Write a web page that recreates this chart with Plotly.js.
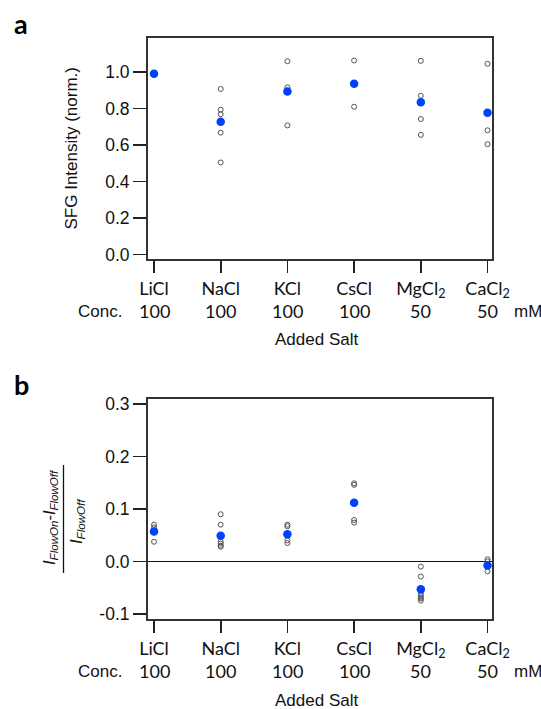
<!DOCTYPE html>
<html>
<head>
<meta charset="utf-8">
<script src="https://cdn.plot.ly/plotly-3.0.1.min.js"></script>
<style>html,body{margin:0;padding:0;background:#fff;}#chart{width:541px;height:709px;}</style>
</head>
<body>
<div id="chart"></div>
<script>
// ---- data ----
const salts = ['LiCl', 'NaCl', 'KCl', 'CsCl', 'MgCl2', 'CaCl2'];
const saltLabels = ['LiCl', 'NaCl', 'KCl', 'CsCl', 'MgCl<sub>2</sub>', 'CaCl<sub>2</sub>'];
const concentrations = ['100', '100', '100', '100', '50', '50'];

// panel a: normalized SFG intensity
const meanSFG = [0.99, 0.727, 0.893, 0.935, 0.833, 0.776];
const replicatesSFG = [
  [0.99],
  [0.906, 0.793, 0.768, 0.667, 0.504],
  [1.058, 0.915, 0.707],
  [1.062, 0.809],
  [1.06, 0.869, 0.742, 0.655],
  [1.044, 0.680, 0.604]
];
const ticksA = [0, 0.2, 0.4, 0.6, 0.8, 1.0];
const tickTextA = ['0.0', '0.2', '0.4', '0.6', '0.8', '1.0'];

// panel b: (I_FlowOn - I_FlowOff) / I_FlowOff
const meanFlow = [0.057, 0.049, 0.052, 0.112, -0.053, -0.008];
const replicatesFlow = [
  [0.070, 0.065, 0.0375],
  [0.090, 0.070, 0.038, 0.034, 0.030, 0.028],
  [0.070, 0.067, 0.040, 0.035],
  [0.149, 0.146, 0.079, 0.074],
  [-0.010, -0.029, -0.061, -0.065, -0.069, -0.071, -0.075],
  [0.004, 0.0, -0.019]
];
const ticksB = [-0.1, 0, 0.1, 0.2, 0.3];
const tickTextB = ['-0.1', '0.0', '0.1', '0.2', '0.3'];

// ---- helpers ----
const W = 541, H = 709;
const px = x => x / W;
const py = y => 1 - y / H;
const ARIAL = 'Liberation Sans, Arial, sans-serif';
const CAL = 'Lato, Open Sans, sans-serif';
const BLUE = '#0040ff';

function hollow(reps, xa, ya) {
  return {
    type: 'scatter', mode: 'markers', xaxis: xa, yaxis: ya,
    x: reps.flatMap((r, i) => r.map(() => salts[i])),
    y: reps.flat(),
    marker: {symbol: 'circle-open', size: 5, color: '#555', line: {width: 1, color: '#555'}},
    hoverinfo: 'x+y'
  };
}
function means(vals, xa, ya) {
  return {
    type: 'scatter', mode: 'markers', xaxis: xa, yaxis: ya,
    x: salts, y: vals,
    marker: {symbol: 'circle', size: 8.5, color: BLUE},
    hoverinfo: 'x+y'
  };
}

const traces = [
  hollow(replicatesSFG, 'x', 'y'),
  means(meanSFG, 'x', 'y'),
  hollow(replicatesFlow, 'x2', 'y2'),
  means(meanFlow, 'x2', 'y2')
];

const frameL = 148, frameR = 492;
const aTop = 38, aBot = 259, bTop = 399, bBot = 619;

const xBase = {
  type: 'category', domain: [px(frameL), px(frameR)], range: [-0.09, 5.067],
  tickvals: salts, ticktext: saltLabels,
  ticks: 'outside', ticklen: 12, tickwidth: 1.6, tickcolor: '#222',
  showline: true, mirror: true, linewidth: 2, linecolor: '#333',
  showgrid: false, zeroline: false, fixedrange: true,
  tickfont: {family: CAL, size: 18, color: '#111'}
};
const yBase = {
  ticks: 'outside', ticklen: 13, tickwidth: 1.6, tickcolor: '#222',
  showline: true, mirror: true, linewidth: 2, linecolor: '#333',
  showgrid: false, fixedrange: true,
  tickfont: {family: ARIAL, size: 17.5, color: '#111'}
};

const annotations = [];
function addText(text, x, y, opts) {
  annotations.push(Object.assign({
    text: text, x: x, y: y, xref: 'paper', yref: 'paper',
    xanchor: 'center', yanchor: 'middle', showarrow: false,
    font: {family: ARIAL, size: 17, color: '#111'}
  }, opts || {}));
}

// panel letters
addText('<b>a</b>', px(21), py(24), {font: {family: CAL, size: 27, color: '#000'}});
addText('<b>b</b>', px(21), py(384), {font: {family: CAL, size: 27, color: '#000'}});

// concentration rows + axis titles for both panels
[[aBot, 'x'], [bBot, 'x2']].forEach(([bot, xr]) => {
  concentrations.forEach((c, i) => {
    annotations.push({
      text: c, x: salts[i], xref: xr, y: py(bot + 52), yref: 'paper',
      xanchor: 'center', yanchor: 'middle', showarrow: false,
      font: {family: CAL, size: 18, color: '#111'}
    });
  });
  addText('Conc.', px(99.5), py(bot + 52));
  addText('mM', px(528), py(bot + 52));
  addText('Added Salt', px(316), py(bot + 81));
});

// y titles
addText('SFG Intensity (norm.)', px(71), py((aTop + aBot) / 2), {textangle: -90});
addText('<i>I</i><sub><i>FlowOn</i></sub>-<i>I</i><sub><i>FlowOff</i></sub>', px(50), py(517),
  {textangle: -90, font: {family: ARIAL, size: 16.5, color: '#111'}});
addText('<i>I</i><sub><i>FlowOff</i></sub>', px(77), py(521),
  {textangle: -90, font: {family: ARIAL, size: 16.5, color: '#111'}});

const layout = {
  width: W, height: H,
  margin: {l: 0, r: 0, t: 0, b: 0},
  paper_bgcolor: '#fff', plot_bgcolor: '#fff',
  showlegend: false,
  xaxis: Object.assign({}, xBase, {anchor: 'y'}),
  yaxis: Object.assign({}, yBase, {
    domain: [py(aBot), py(aTop)], anchor: 'x', range: [-0.024, 1.185],
    tickvals: ticksA, ticktext: tickTextA, zeroline: false
  }),
  xaxis2: Object.assign({}, xBase, {anchor: 'y2'}),
  yaxis2: Object.assign({}, yBase, {
    domain: [py(bBot), py(bTop)], anchor: 'x2', range: [-0.11, 0.31],
    tickvals: ticksB, ticktext: tickTextB,
    zeroline: true, zerolinecolor: '#111', zerolinewidth: 1.6
  }),
  annotations: annotations,
  shapes: [{
    type: 'line', xref: 'paper', yref: 'paper',
    x0: px(63.5), x1: px(63.5), y0: py(465), y1: py(573),
    line: {color: '#111', width: 1.3}
  }]
};

Plotly.newPlot('chart', traces, layout, {displayModeBar: false, staticPlot: true});
</script>
</body>
</html>
